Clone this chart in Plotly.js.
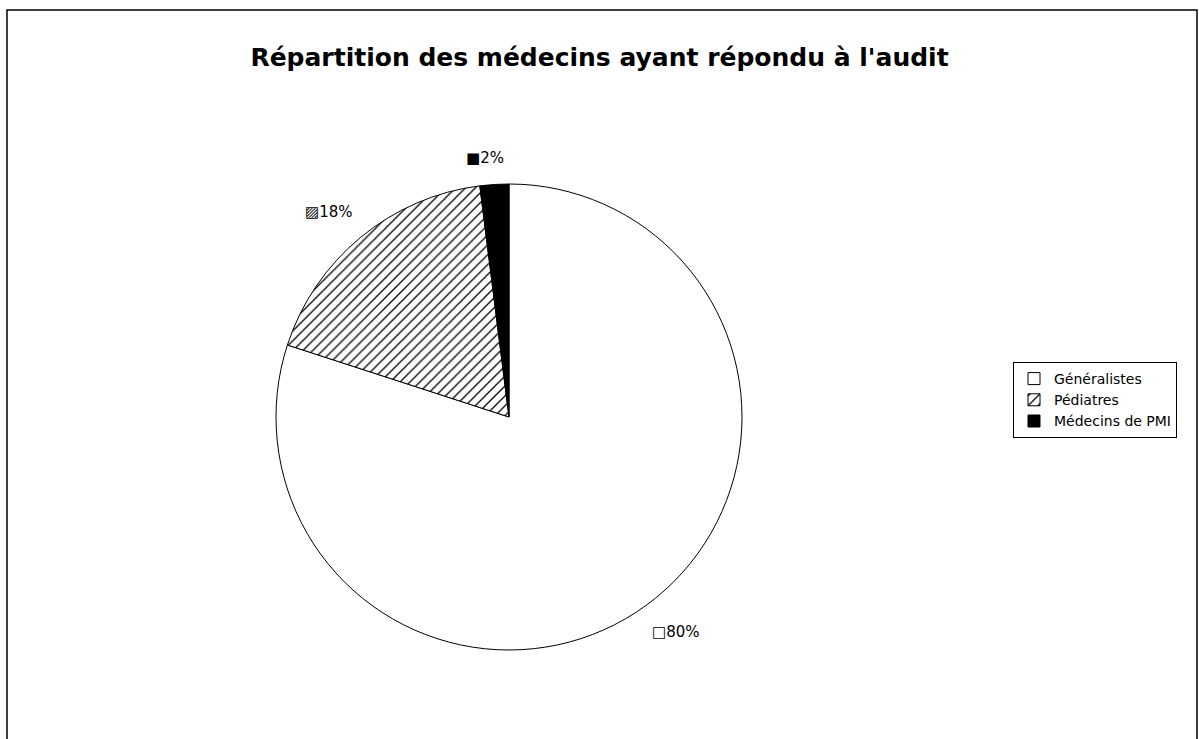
<!DOCTYPE html>
<html>
<head>
<meta charset="utf-8">
<script src="https://cdn.plot.ly/plotly-3.0.1.min.js"></script>
<style>
  html, body { margin: 0; padding: 0; background: #ffffff; }
  #chart { width: 1199px; height: 739px; }
</style>
</head>
<body>
<div id="chart"></div>
<script>
// ---- Data ----
const categories = ["Généralistes", "Pédiatres", "Médecins de PMI"];
const values = [80, 18, 2];
const labelKeys = ["\u25A1", "\u25A8", "\u25A0"];
const sliceColors = ["#ffffff", "#ffffff", "#000000"];
const slicePatterns = ["", "/", ""];

// ---- Geometry (figure pixels) ----
const W = 1199, H = 739;
const cx = 509, cy = 417, R = 233;

const pieTrace = {
  type: "pie",
  labels: categories,
  values: values,
  sort: false,
  direction: "clockwise",
  rotation: 0,
  textinfo: "none",
  hoverinfo: "label+percent",
  domain: {
    x: [(cx - R) / W, (cx + R) / W],
    y: [1 - (cy + R) / H, 1 - (cy - R) / H]
  },
  marker: {
    colors: sliceColors,
    line: { color: "#000000", width: 1 },
    pattern: {
      shape: slicePatterns,
      fgcolor: "#000000",
      bgcolor: "#ffffff",
      size: 7,
      solidity: 0.18
    }
  }
};

// Outside labels placed from the data (mid-angle of each slice)
const total = values.reduce((a, b) => a + b, 0);
const annotations = [];
let cum = 0;
values.forEach((v, i) => {
  const mid = (cum + v / 2) / total * 2 * Math.PI - 0.03;
  cum += v;
  const sx = Math.sin(mid), cyDir = -Math.cos(mid);
  const pct = Math.round(v / total * 100) + "%";
  const halfW = 8 + pct.length * 6, halfH = 8;
  const d = R + 17 + halfW * Math.abs(sx) + halfH * Math.abs(cyDir);
  const px = cx + sx * d;
  const py = cy + cyDir * d;
  annotations.push({
    xref: "paper", yref: "paper",
    x: px / W, y: 1 - py / H,
    xanchor: "center", yanchor: "middle",
    showarrow: false,
    text: labelKeys[i] + pct,
    font: { family: "DejaVu Sans, Arial, sans-serif", size: 15, color: "#000000" }
  });
});

const layout = {
  width: W,
  height: H,
  margin: { l: 0, r: 0, t: 0, b: 0 },
  paper_bgcolor: "#ffffff",
  plot_bgcolor: "#ffffff",
  title: {
    text: "<b>Répartition des médecins ayant répondu à l'audit</b>",
    font: { family: "DejaVu Sans, Arial, sans-serif", size: 25, color: "#000000" },
    x: 0.5, xref: "paper", xanchor: "center",
    y: 1 - 57 / H, yref: "paper", yanchor: "middle"
  },
  showlegend: true,
  legend: {
    x: 1177 / W, xanchor: "right",
    y: 1 - 400 / H, yanchor: "middle",
    bgcolor: "#ffffff",
    bordercolor: "#000000",
    borderwidth: 1,
    font: { family: "DejaVu Sans, Arial, sans-serif", size: 14, color: "#000000" },
    itemwidth: 30,
    tracegroupgap: 0
  },
  annotations: annotations,
  shapes: [{
    type: "rect",
    xref: "paper", yref: "paper",
    x0: 7 / W, x1: 1197 / W,
    y0: -0.02, y1: 1 - 10 / H,
    line: { color: "#000000", width: 1.5 },
    fillcolor: "rgba(0,0,0,0)",
    layer: "below"
  }]
};

Plotly.newPlot("chart", [pieTrace], layout, { displayModeBar: false, staticPlot: true });
</script>
</body>
</html>
